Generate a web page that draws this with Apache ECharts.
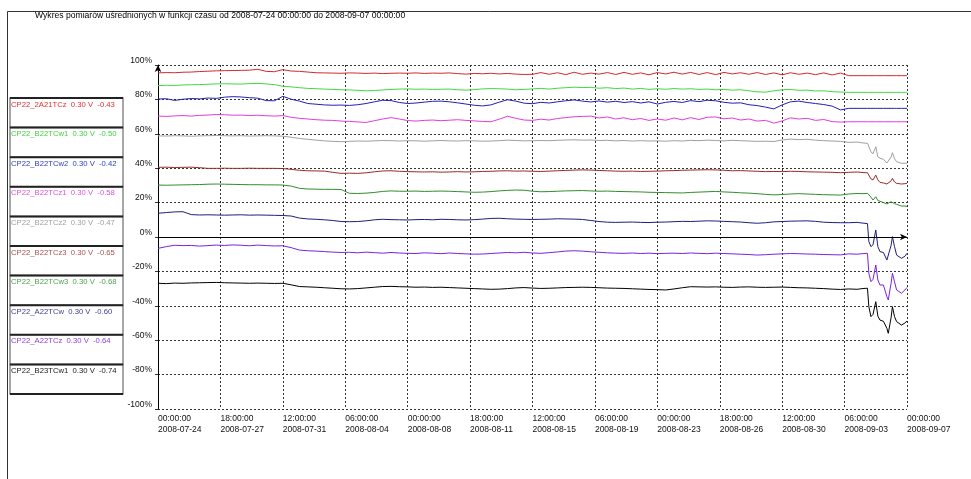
<!DOCTYPE html>
<html><head><meta charset="utf-8">
<script src="https://cdn.jsdelivr.net/npm/echarts/dist/echarts.min.js"></script>
<style>html,body{margin:0;padding:0;background:#fff}#c{width:971px;height:479px}</style>
</head><body><div id="c"></div><script>
const titleText = 'Wykres pomiarów uśrednionych w funkcji czasu od 2008-07-24 00:00:00 do 2008-09-07 00:00:00';
const seriesNames = ['CP22_2A21TCz','CP22_B22TCw1','CP22_B22TCw2','CP22_B22TCz1','CP22_B22TCz2','CP22_B22TCz3','CP22_B22TCw3','CP22_A22TCw','CP22_A22TCz','CP22_B23TCw1'];
const legendScale = ['0.30 V','0.30 V','0.30 V','0.30 V','0.30 V','0.30 V','0.30 V','0.30 V','0.30 V','0.30 V'];
const legendOffset = ['-0.43','-0.50','-0.42','-0.58','-0.47','-0.65','-0.68','-0.60','-0.64','-0.74'];
const lineColors = ['#d62828','#3ddc3d','#2020b8','#e03ce0','#a0a0a0','#9a2a2a','#2e8e2e','#1e1e7a','#7a22e0','#000000'];
const legendColors = ['#e03030','#40d040','#3040c0','#e050e0','#a0a0a0','#b05050','#50a050','#404090','#9040e0','#202020'];
const xTickTimes = ['00:00:00','18:00:00','12:00:00','06:00:00','00:00:00','18:00:00','12:00:00','06:00:00','00:00:00','18:00:00','12:00:00','06:00:00','00:00:00'];
const xTickDates = ['2008-07-24','2008-07-27','2008-07-31','2008-08-04','2008-08-08','2008-08-11','2008-08-15','2008-08-19','2008-08-23','2008-08-26','2008-08-30','2008-09-03','2008-09-07'];
const yTicks = [-100,-80,-60,-40,-20,0,20,40,60,80,100];

// hours since 2008-07-24 00:00:00
const hours = [
 0,12,24,36,48,60,72,84,96,108,120,132,
 144,156,168,180,192,204,216,228,240,252,264,276,
 288,300,312,324,336,348,360,372,384,396,408,420,
 432,444,456,468,480,492,504,516,528,540,552,564,
 576,588,600,612,624,636,648,660,672,684,696,708,
 720,732,744,756,768,780,792,804,816,828,840,852,
 864,876,888,900,912,924,936,948,960,972,984,
 996,1008,1018,1023,1025,1028,1031,1035,1038,1041,1046,1051,1053,1057,1059,1062,1065,1072,1077,1080];

const s1 = [
 95.4,95.6,95.5,95.8,95.9,96.2,96.4,96.6,96.7,96.8,96.9,97.0,
 97.5,96.3,96.1,97.3,96.5,96.3,95.9,95.5,95.4,95.3,95.2,95.4,
 95.3,95.1,95.3,95.0,95.2,95.3,95.2,95.4,95.1,95.3,95.2,95.4,
 95.0,94.7,95.1,94.9,95.2,94.8,95.1,94.7,94.5,94.6,95.6,94.6,
 95.5,94.4,95.8,94.6,95.3,94.7,95.6,94.5,95.7,94.6,95.4,94.3,
 95.6,94.8,95.8,94.7,95.7,94.5,95.6,94.4,95.7,94.8,95.5,94.6,
 95.6,94.5,95.4,94.3,95.5,94.6,95.3,94.4,95.4,94.2,95.3,
 93.8,93.8,93.8,93.8,93.8,93.8,93.8,93.8,93.8,93.8,93.8,93.8,93.8,93.8,93.8,93.8,93.8,93.8,93.8,93.8];
const s2 = [
 88.0,88.2,88.1,88.4,88.5,88.6,88.8,89.0,89.1,89.0,88.9,89.2,
 89.3,89.0,88.6,87.6,87.3,86.8,86.4,86.2,86.0,85.8,85.6,85.5,
 85.3,85.0,85.2,85.5,85.8,86.0,86.1,85.9,86.0,85.8,85.9,86.0,
 85.6,85.4,85.7,86.1,86.3,86.2,86.0,85.6,85.8,86.1,86.4,86.0,
 86.5,86.8,87.1,86.9,87.0,86.5,86.8,86.3,86.6,86.0,86.4,85.8,
 86.2,85.9,86.3,86.0,86.2,85.8,86.0,85.6,85.8,85.4,85.6,85.0,
 84.4,84.2,85.0,85.6,85.8,85.3,85.4,84.9,85.0,84.5,84.3,
 84.1,84.1,84.1,84.1,84.1,84.1,84.1,84.1,84.1,84.1,84.1,84.1,84.1,84.1,84.1,84.1,84.1,84.1,84.1,84.1];
const s3 = [
 80.2,80.4,79.4,80.1,80.5,80.3,80.8,80.6,81.3,81.6,81.4,81.0,
 80.7,79.3,79.2,81.8,80.1,79.0,77.6,77.2,76.8,76.6,76.7,76.5,
 76.9,77.6,78.6,79.5,79.3,78.2,77.6,77.9,78.4,78.9,79.0,78.6,
 78.0,77.3,76.6,76.2,76.8,78.4,79.8,79.0,77.8,77.5,78.3,77.9,
 78.6,79.2,79.7,79.0,78.5,79.1,78.4,78.9,78.2,78.7,77.9,78.6,
 77.3,78.3,78.8,78.2,79.3,78.7,79.5,79.2,78.3,77.8,78.0,76.9,
 76.4,75.5,74.5,76.8,78.6,79.0,78.2,77.6,77.0,76.1,73.9,
 74.8,74.8,74.8,74.8,74.8,74.8,74.8,74.8,74.8,74.8,74.8,74.8,74.8,74.8,74.8,74.8,74.8,74.8,74.8,74.8];
const s4 = [
 70.3,70.1,70.4,70.6,70.3,70.7,70.9,71.2,71.1,70.8,70.9,70.6,
 70.8,70.5,70.3,70.6,69.6,69.0,68.6,68.2,67.9,67.8,67.4,67.2,
 66.9,66.6,67.6,68.6,69.4,68.6,67.7,67.4,67.8,68.0,67.6,67.9,
 68.2,67.8,67.5,67.2,67.0,68.5,70.2,69.0,68.0,67.8,68.5,68.0,
 68.9,69.4,69.9,70.1,70.3,69.2,69.8,68.6,69.3,68.2,68.9,67.8,
 68.6,67.9,69.2,68.1,69.4,68.3,69.6,69.8,68.7,69.2,68.0,68.6,
 67.4,67.8,66.2,67.5,69.3,68.6,69.0,67.8,68.3,67.1,66.8,
 67.0,67.0,67.0,67.0,67.0,67.0,67.0,67.0,67.0,67.0,67.0,67.0,67.0,67.0,67.0,67.0,67.0,67.0,67.0,67.0];
const s5 = [
 58.8,58.7,58.9,58.8,58.6,58.8,58.9,59.0,58.9,58.8,58.9,58.7,
 58.8,58.9,58.8,58.6,58.0,57.3,56.8,56.3,55.9,55.6,55.4,55.6,
 55.8,55.7,55.9,56.1,56.0,55.8,56.0,55.9,55.7,55.9,56.1,55.9,
 55.8,56.0,55.9,55.7,55.8,56.0,56.3,56.1,55.9,56.0,56.1,56.0,
 56.2,56.4,56.5,56.3,56.4,56.1,56.2,55.9,56.1,55.8,56.0,55.8,
 55.9,55.7,56.0,55.8,56.2,56.0,56.3,56.1,55.9,56.2,56.0,55.8,
 55.6,55.7,55.5,56.4,56.9,56.6,56.8,56.3,56.0,55.8,55.6,
 55.0,55.2,54.6,54.5,53.8,49.5,48.4,52.5,46.5,45.8,45.2,43.0,41.9,46.5,49.0,45.5,43.8,42.8,42.9,42.8];
const s6 = [
 40.5,40.6,40.4,40.5,40.6,40.3,39.9,39.9,40.0,39.9,39.9,40.0,
 39.9,39.9,39.9,39.8,39.3,38.8,38.5,38.4,38.3,37.6,37.0,37.1,
 37.0,37.3,37.9,38.4,38.5,38.2,38.0,37.9,37.8,37.9,37.7,37.8,
 38.0,37.8,37.9,38.1,38.2,38.4,38.5,38.3,38.4,38.2,38.1,38.3,
 38.5,38.7,38.9,39.0,38.9,38.7,38.5,38.3,38.2,38.3,38.1,38.2,
 38.3,38.5,38.6,38.8,38.9,39.0,39.1,39.0,38.8,38.5,38.6,38.4,
 38.2,38.0,38.1,38.0,38.2,38.1,37.9,37.8,37.7,37.6,37.4,
 37.6,37.8,37.4,37.4,36.6,33.8,33.2,36.0,33.2,31.8,31.4,30.8,30.2,32.6,34.1,32.0,31.2,30.8,31.0,31.2];
const s7 = [
 30.2,30.1,30.2,30.3,30.4,30.5,30.7,30.8,30.7,30.6,30.5,30.4,
 30.4,30.3,30.3,30.2,29.6,28.3,27.9,27.8,27.7,27.7,27.6,25.4,
 25.3,25.5,25.9,26.5,26.8,26.6,26.6,26.7,26.5,26.6,26.7,26.6,
 26.4,26.2,26.0,26.1,26.4,26.8,27.1,27.3,27.2,26.6,26.3,26.4,
 26.6,26.8,26.9,27.0,26.8,26.6,26.7,26.5,26.4,26.3,26.2,26.0,
 25.9,25.8,25.7,25.6,25.9,26.1,26.3,26.5,26.2,26.0,25.7,25.5,
 25.2,24.8,24.5,24.7,25.0,25.2,25.0,24.8,24.6,24.5,24.4,
 25.0,25.3,25.2,25.4,24.8,23.2,21.5,23.4,21.2,20.8,20.0,19.2,18.6,20.5,21.5,19.4,19.0,18.0,18.0,17.8];
const s8 = [
 13.8,14.2,14.6,14.7,13.0,12.8,12.9,12.8,12.7,12.8,12.9,12.7,
 12.8,12.7,12.6,12.5,12.2,11.0,10.5,10.3,10.0,9.6,9.0,8.9,
 9.0,9.4,10.0,10.3,10.1,10.0,9.9,10.1,10.2,10.0,10.3,10.2,
 10.0,9.9,10.1,10.4,10.8,10.9,10.6,10.4,10.3,10.2,10.3,10.4,
 10.6,10.5,10.4,10.2,9.6,9.0,8.6,8.5,8.6,8.7,8.5,8.4,
 8.6,8.7,8.9,9.1,9.0,9.2,9.4,9.3,9.1,8.9,8.7,8.3,
 8.0,8.3,8.8,9.0,9.2,9.3,9.4,9.1,8.6,8.4,8.3,
 8.3,8.5,8.0,7.8,-2.7,-5.6,-4.5,4.1,-5.6,-8.5,-9.0,-13.4,-14.3,-5.0,0.2,-5.6,-10.5,-12.4,-11.2,-9.5];
const s9 = [
 -6.6,-5.6,-4.8,-5.0,-4.9,-5.3,-5.0,-4.7,-4.9,-4.6,-4.8,-5.1,
 -4.7,-5.0,-5.2,-5.1,-6.2,-7.6,-8.0,-8.2,-8.5,-8.8,-9.0,-8.9,
 -9.2,-8.8,-9.1,-9.4,-9.0,-9.3,-9.5,-9.6,-9.2,-9.4,-9.7,-9.3,
 -9.6,-9.8,-10.0,-9.9,-9.6,-9.3,-9.0,-9.2,-8.9,-9.3,-9.5,-9.1,
 -8.7,-8.2,-8.0,-8.2,-8.6,-8.9,-9.2,-9.4,-9.5,-9.3,-9.6,-9.4,
 -9.7,-9.5,-9.4,-9.6,-9.3,-9.5,-9.7,-9.4,-9.6,-9.8,-10.0,-10.2,
 -10.5,-10.3,-10.0,-9.8,-9.6,-9.7,-9.9,-10.0,-10.2,-10.3,-10.4,
 -9.8,-10.0,-9.6,-9.5,-21.1,-26.0,-24.6,-16.3,-25.0,-27.9,-27.9,-34.7,-36.6,-27.0,-21.1,-26.0,-30.8,-32.7,-30.8,-29.3];
const s10 = [
 -26.9,-27.1,-26.8,-26.9,-26.7,-26.6,-26.5,-26.4,-26.6,-26.7,-26.8,-26.9,
 -26.8,-26.9,-27.0,-26.9,-27.8,-28.8,-29.0,-29.2,-29.5,-29.8,-30.1,-30.2,
 -30.0,-29.6,-29.2,-28.8,-28.7,-28.9,-29.0,-29.2,-29.1,-29.3,-29.2,-29.4,
 -29.6,-29.8,-30.0,-30.2,-30.4,-30.3,-30.0,-29.6,-29.4,-29.7,-29.9,-29.8,
 -29.6,-29.4,-29.3,-29.2,-29.3,-29.5,-29.7,-29.8,-29.9,-30.1,-30.3,-30.5,
 -30.6,-30.8,-30.2,-29.5,-28.9,-29.0,-29.1,-29.0,-29.2,-29.3,-29.1,-29.0,
 -29.2,-29.3,-29.2,-29.1,-29.3,-29.5,-29.6,-29.8,-30.0,-30.3,-30.5,
 -30.2,-30.4,-29.9,-29.8,-40.5,-46.3,-45.0,-37.6,-46.0,-48.3,-49.0,-53.1,-56.0,-47.0,-40.5,-46.3,-49.2,-51.2,-50.0,-48.8];
const seriesValues = [s1,s2,s3,s4,s5,s6,s7,s8,s9,s10];

const FONT = '"Liberation Sans", Arial, sans-serif';
const chart = echarts.init(document.getElementById('c'), null, {renderer: 'canvas'});

const series = seriesNames.map((name, k) => ({
  name: name,
  type: 'line',
  data: hours.map((h, i) => [h, seriesValues[k][i]]),
  symbol: 'none',
  showSymbol: false,
  silent: true,
  animation: false,
  lineStyle: {width: 1, color: lineColors[k]},
  itemStyle: {color: lineColors[k]},
  z: 3
}));
series[0].markLine = {
  silent: true, animation: false,
  symbol: ['none', 'arrow'], symbolSize: [5, 7],
  lineStyle: {color: '#000', type: 'solid', width: 1},
  label: {show: false},
  data: [{yAxis: 0}]
};

// legend panel and frame drawn as graphics
const graphics = [];
graphics.push({type: 'line', shape: {x1: 7.5, y1: 11.5, x2: 971, y2: 11.5}, style: {stroke: '#333', lineWidth: 1}});
graphics.push({type: 'line', shape: {x1: 7.5, y1: 11.5, x2: 7.5, y2: 479}, style: {stroke: '#333', lineWidth: 1}});
graphics.push({type: 'text', x: 35, y: 16, style: {text: titleText, fill: '#000', font: '8.6px ' + FONT, verticalAlign: 'middle'}});
const boxTop = 98, boxH = 29.6, boxX = 10, boxW = 113;
seriesNames.forEach((name, i) => {
  const top = boxTop + i * boxH;
  graphics.push({type: 'rect', shape: {x: boxX, y: top, width: boxW, height: boxH}, style: {fill: '#fff', stroke: '#8a8a8a', lineWidth: 1.5}});
  graphics.push({type: 'line', shape: {x1: boxX, y1: top, x2: boxX + boxW, y2: top}, style: {stroke: '#222', lineWidth: 2}});
  graphics.push({type: 'text', x: boxX + 1, y: top + 6.5, style: {text: name + '  ' + legendScale[i] + '  ' + legendOffset[i], fill: legendColors[i], font: '7.7px ' + FONT, verticalAlign: 'middle'}});
});
graphics.push({type: 'line', shape: {x1: boxX, y1: boxTop + 10 * boxH, x2: boxX + boxW, y2: boxTop + 10 * boxH}, style: {stroke: '#222', lineWidth: 2}});

const dash = {color: '#333', type: [2, 2], width: 1};

chart.setOption({
  animation: false,
  backgroundColor: '#fff',
  grid: {left: 158, right: 64, top: 65, bottom: 70, containLabel: false},
  xAxis: {
    type: 'value', min: 0, max: 1080, interval: 90,
    axisLine: {show: false, onZero: false},
    axisTick: {show: false},
    splitLine: {show: true, lineStyle: dash},
    axisLabel: {
      formatter: function (v) { const i = Math.round(v / 90); return xTickTimes[i] + '\n' + xTickDates[i]; },
      align: 'left', verticalAlign: 'top', fontSize: 8.5, lineHeight: 11, color: '#111', margin: 4,
      fontFamily: FONT, showMinLabel: true, showMaxLabel: true
    }
  },
  yAxis: {
    type: 'value', min: yTicks[0], max: yTicks[yTicks.length - 1], interval: 20,
    axisLine: {show: true, onZero: false, lineStyle: {color: '#000', width: 1}, symbol: ['none', 'arrow'], symbolSize: [5, 7]},
    axisTick: {show: true, length: 3, lineStyle: {color: '#333'}},
    splitLine: {show: true, lineStyle: dash},
    axisLabel: {formatter: '{value}%', fontSize: 8.5, color: '#111', margin: 6, verticalAlign: 'bottom', fontFamily: FONT}
  },
  graphic: graphics,
  series: series
});
</script></body></html>
